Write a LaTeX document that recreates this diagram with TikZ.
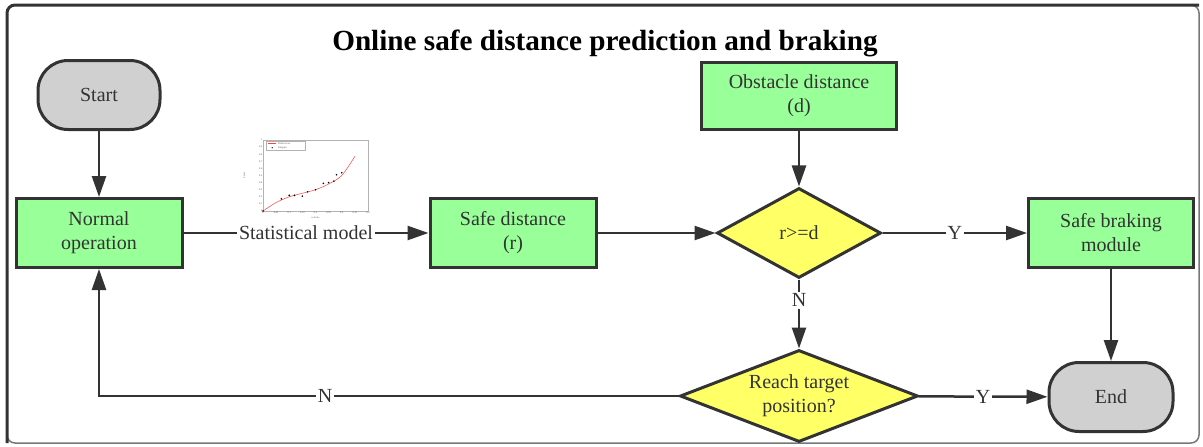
\documentclass[tikz,border=0pt]{standalone}
\usepackage{fontspec}
\setmainfont{Liberation Serif}
\usetikzlibrary{shapes.geometric, arrows.meta, positioning}

\definecolor{boxgreen}{RGB}{153,255,153}
\definecolor{decyellow}{RGB}{255,255,102}
\definecolor{termgrey}{RGB}{208,208,208}
\definecolor{inkgrey}{RGB}{51,51,51}
\definecolor{framegrey}{RGB}{120,120,120}

\tikzset{
  boxfont/.style={font=\fontsize{20}{24}\selectfont, text=inkgrey},
  process/.style={boxfont, draw=inkgrey, line width=3pt, fill=boxgreen, minimum width=166pt, minimum height=69pt, align=center, inner sep=0pt},
  terminal/.style={boxfont, draw=inkgrey, line width=3pt, fill=termgrey, rounded corners=30pt, minimum width=122pt, minimum height=69pt, inner sep=0pt},
  decision/.style={boxfont, diamond, draw=inkgrey, line width=3pt, fill=decyellow, inner sep=0pt, align=center},
  flow/.style={line width=2.5pt, draw=inkgrey, -{Triangle[length=21pt, width=14pt]}},
  flowlabel/.style={boxfont, fill=white, inner sep=2pt},
  tinytext/.style={font=\fontsize{2.5}{3}\selectfont, text=black!70, inner sep=0.5pt}
}

\begin{document}
\begin{tikzpicture}[x=1pt, y=-1pt]
  \useasboundingbox (0,0) rectangle (1203,447);

  % frame
  \draw[framegrey, line width=1.5pt, rounded corners=8pt] (7,5) rectangle (1199,443);
  \draw[inkgrey, line width=3pt, rounded corners=8pt] (7,443) -- (7,5) -- (1199,5);

  \node[font=\fontsize{29.2}{33}\selectfont\bfseries] (title) at (605,43) {Online safe distance prediction and braking};

  % nodes
  \node[terminal] (start) at (99,95) {Start};
  \node[process] (normal) at (99,233) {Normal\\operation};
  \node[process] (safedist) at (513,233) {Safe distance\\(r)};
  \node[process, minimum width=195pt, minimum height=67pt] (obstacle) at (799,96) {Obstacle distance\\(d)};
  \node[decision, aspect=1.8, minimum width=164pt, minimum height=90pt] (compare) at (799,233) {r>=d};
  \node[process, minimum width=165pt] (braking) at (1111,233) {Safe braking\\module};
  \node[decision, aspect=2.6, minimum width=238pt, minimum height=92pt,
        label={[boxfont, align=center]center:{Reach target\\position?}}] (reach) at (799,396) {};
  \node[terminal, minimum width=124pt] (end) at (1111,397) {End};

  % statistical model plot
  \begin{scope}[shift={(263,211)}, x=262.5pt, y=71pt]
    \draw[gray!60, line width=0.3pt] (0,0) rectangle (0.4,1);
    \foreach \t in {0,0.05,0.1,0.15,0.2,0.25,0.3,0.35,0.4}
      \node[tinytext, below] at (\t,0) {\t};
    \foreach \t in {0,0.1,0.2,0.3,0.4,0.5,0.6,0.7,0.8,0.9,1}
      \node[tinytext, left] at (0,\t) {\t};
    \node[tinytext, below] at (0.2,-0.07) {velocity};
    \node[tinytext, rotate=90] at (-0.07,0.5) {L(m)};
    \draw[red!75, line width=0.5pt] plot[smooth] coordinates {
      (0,0) (0.05,0.12) (0.1,0.2) (0.15,0.25) (0.2,0.3) (0.25,0.38) (0.3,0.5) (0.35,0.77)
    };
    \foreach \p in {(0.07,0.17),(0.1,0.22),(0.12,0.22),(0.15,0.21),(0.17,0.27),(0.2,0.3),(0.23,0.39),(0.25,0.4),(0.27,0.42),(0.28,0.51),(0.3,0.54),(0,0)}
      \fill[black] \p circle (0.9pt);
    \draw[gray!60, line width=0.2pt, fill=white] (0.012,0.86) rectangle (0.16,0.985);
    \draw[red!75, line width=0.4pt] (0.02,0.95) -- (0.05,0.95);
    \node[tinytext, right] at (0.055,0.95) {Fitted curve};
    \fill[black] (0.035,0.89) circle (0.7pt);
    \node[tinytext, right] at (0.055,0.89) {Samples};
  \end{scope}

  % connectors
  \draw[flow] (start) -- (normal);
  \draw[flow] (normal) -- node[flowlabel] {Statistical model} (safedist);
  \draw[flow] (safedist) -- (compare);
  \draw[flow] (obstacle) -- (compare);
  \draw[flow] (compare) -- node[flowlabel] {Y} (braking);
  \draw[flow] (compare) -- node[flowlabel, pos=0.3] {N} (reach);
  \draw[flow] (braking) -- (end);
  \draw[flow] (reach) -- node[flowlabel] {Y} (end);
  \draw[flow] (reach) -| node[flowlabel, pos=0.305] {N} (normal);
\end{tikzpicture}
\end{document}
